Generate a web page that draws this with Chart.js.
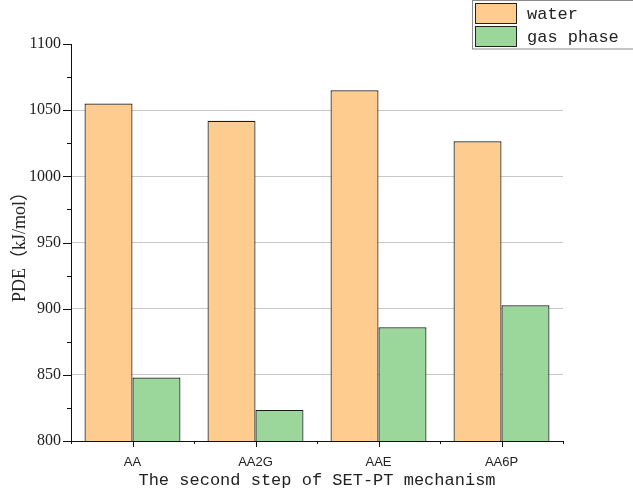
<!DOCTYPE html>
<html>
<head>
<meta charset="utf-8">
<script src="https://cdn.jsdelivr.net/npm/chart.js@4/dist/chart.umd.min.js"></script>
<style>
html,body{margin:0;padding:0;background:#fff;}
#wrap{width:633px;height:498px;position:relative;}
</style>
</head>
<body>
<div id="wrap"><canvas id="c"></canvas></div>
<script>
const categories = ['AA', 'AA2G', 'AAE', 'AA6P'];
const waterValues = [1055, 1042, 1065, 1026.5];
const gasValues = [848, 823.5, 886, 902.5];
const seriesNames = ['water', 'gas phase'];
const yTickValues = [800, 850, 900, 950, 1000, 1050, 1100];
const xTitle = 'The second step of SET-PT mechanism';
const yTitle = 'PDE（kJ/mol）';

const waterColor = '#FFCC8F';
const gasColor = '#9BD69B';

const tickPlugin = {
  id: 'ticksAndLegend',
  afterDraw(chart) {
    const ctx = chart.ctx;
    const y = chart.scales.y, x = chart.scales.x;
    const area = chart.chartArea;
    ctx.save();
    ctx.strokeStyle = '#111';
    ctx.lineWidth = 1;
    ctx.beginPath();
    for (let v = y.min; v <= y.max + 1e-6; v += 25) {
      const py = Math.round(y.getPixelForValue(v)) + 0.5;
      const major = (v % 50) === 0;
      const len = major ? 8 : 4;
      ctx.moveTo(area.left, py);
      ctx.lineTo(area.left - len, py);
    }
    const n = categories.length;
    for (let i = 0; i < n; i++) {
      const px = Math.round(x.getPixelForValue(i)) + 0.5;
      ctx.moveTo(px, area.bottom);
      ctx.lineTo(px, area.bottom + 6);
    }
    for (let i = 0; i <= n; i++) {
      const px = Math.round(x.getPixelForValue(i - 0.5)) + 0.5;
      ctx.moveTo(px, area.bottom);
      ctx.lineTo(px, area.bottom + 3);
    }
    ctx.stroke();

    const ds = chart.data.datasets;
    ctx.strokeStyle = '#8a8a8a';
    ctx.strokeRect(472.5, 0.5, 170, 48.5);
    const rows = [3, 26];
    ctx.font = "17px 'Liberation Mono', monospace";
    ctx.textBaseline = 'middle';
    ds.forEach((d, i) => {
      const top = rows[i];
      ctx.fillStyle = d.backgroundColor;
      ctx.fillRect(475.5, top + 0.5, 41, 20);
      ctx.strokeStyle = '#222';
      ctx.strokeRect(475.5, top + 0.5, 41, 20);
      ctx.fillStyle = '#222';
      ctx.fillText(d.label, 527, top + 11);
    });
    ctx.restore();
  }
};

new Chart(document.getElementById('c'), {
  type: 'bar',
  data: {
    labels: categories,
    datasets: [
      { label: seriesNames[0], data: waterValues, backgroundColor: waterColor, borderColor: '#1a1a1a', borderWidth: 1.2, borderSkipped: false },
      { label: seriesNames[1], data: gasValues, backgroundColor: gasColor, borderColor: '#1a1a1a', borderWidth: 1.2, borderSkipped: false }
    ]
  },
  options: {
    responsive: true,
    maintainAspectRatio: false,
    animation: false,
    layout: { padding: { top: 44, right: 70, left: 0, bottom: 0 } },
    datasets: { bar: { categoryPercentage: 0.78, barPercentage: 1.0 } },
    plugins: { legend: { display: false }, tooltip: { enabled: false } },
    scales: {
      x: {
        grid: { display: false, drawTicks: false },
        border: { display: true, color: '#111', width: 1 },
        ticks: { color: '#222', padding: 14, font: { family: "'Liberation Sans Narrow', 'Liberation Sans', sans-serif", size: 13 } },
        title: { display: true, text: xTitle, color: '#222', padding: { top: 0, bottom: 7 }, font: { family: "'Liberation Mono', monospace", size: 17 } },
        afterFit(s) { s.height = 57; }
      },
      y: {
        min: 800, max: 1100,
        afterBuildTicks(s) { s.ticks = yTickValues.map(v => ({ value: v })); },
        grid: {
          drawTicks: false,
          color: (c) => (c.tick && (c.tick.value === 800 || c.tick.value === 1100)) ? 'rgba(0,0,0,0)' : '#c8c8c8'
        },
        border: { display: true, color: '#111', width: 1 },
        ticks: { color: '#222', padding: 10, font: { family: "'Liberation Serif', serif", size: 16 }, callback: (v) => String(v) },
        title: { display: true, text: yTitle, color: '#222', padding: { top: 9, bottom: 0 }, font: { family: "'Liberation Serif', 'Noto Sans CJK SC', serif", size: 18 } },
        afterFit(s) { s.width = 71; }
      }
    }
  },
  plugins: [tickPlugin]
});
</script>
</body>
</html>
